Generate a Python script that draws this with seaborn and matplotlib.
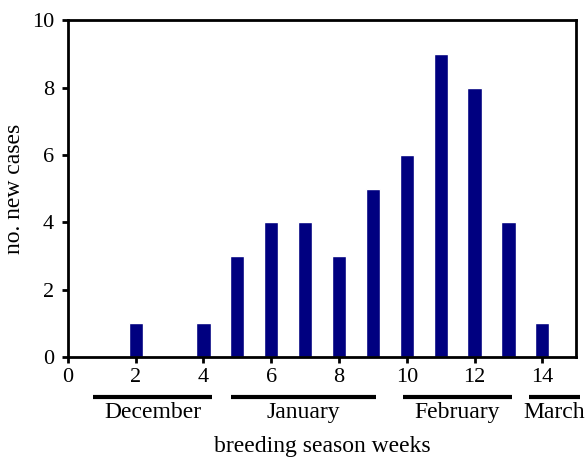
import numpy as np
import pandas as pd
import seaborn as sns
from matplotlib import pyplot as plt
from matplotlib import transforms

# weekly counts of new cases
weeks = [2, 4, 5, 6, 7, 8, 9, 10, 11, 12, 13, 14]
cases = [1, 1, 3, 4, 4, 3, 5, 6, 9, 8, 4, 1]

# month spans under the x axis (in week units)
months = ['December', 'January', 'February', 'March']
month_start = [0.75, 4.8, 9.9, 13.6]
month_end = [4.25, 9.1, 13.1, 15.1]

sns.set_style("ticks")
plt.rcParams['font.family'] = ['Liberation Serif', 'DejaVu Serif']
plt.rcParams['text.color'] = 'black'
plt.rcParams['axes.labelcolor'] = 'black'

df = pd.DataFrame({'week': weeks, 'cases': cases})

fig = plt.figure(figsize=(5.85, 4.58), dpi=100)
ax = fig.add_axes([0.116, 0.2205, 0.869, 0.7355])
sns.barplot(data=df, x='week', y='cases', native_scale=True, width=0.42,
            color='#000080', saturation=1, ax=ax)

ax.set_xlim(0, 15)
ax.set_ylim(0, 10)
ax.set_xticks(np.arange(0, 15, 2))
ax.set_yticks(np.arange(0, 11, 2))
ax.tick_params(axis='both', direction='out', length=4, width=2, labelsize=16,
               colors='black')
ax.tick_params(axis='x', pad=4)
ax.tick_params(axis='y', pad=6)
for s in ax.spines.values():
    s.set_linewidth(2)
    s.set_color('black')

ax.set_xlabel('breeding season weeks', fontsize=17)
ax.set_ylabel('no. new cases', fontsize=17)
ax.xaxis.set_label_coords(0.5, -0.235)
ax.yaxis.set_label_coords(-0.085, 0.5)

# month bars and names below the tick labels
trans = transforms.blended_transform_factory(ax.transData, ax.transAxes)
for name, a, b in zip(months, month_start, month_end):
    ax.plot([a, b], [-0.118, -0.118], color='black', lw=3, transform=trans,
            clip_on=False, solid_capstyle='butt')
    ax.text((a + b) / 2, -0.135, name, transform=trans, ha='center', va='top',
            fontsize=17)

plt.savefig('out.png', dpi=100)
